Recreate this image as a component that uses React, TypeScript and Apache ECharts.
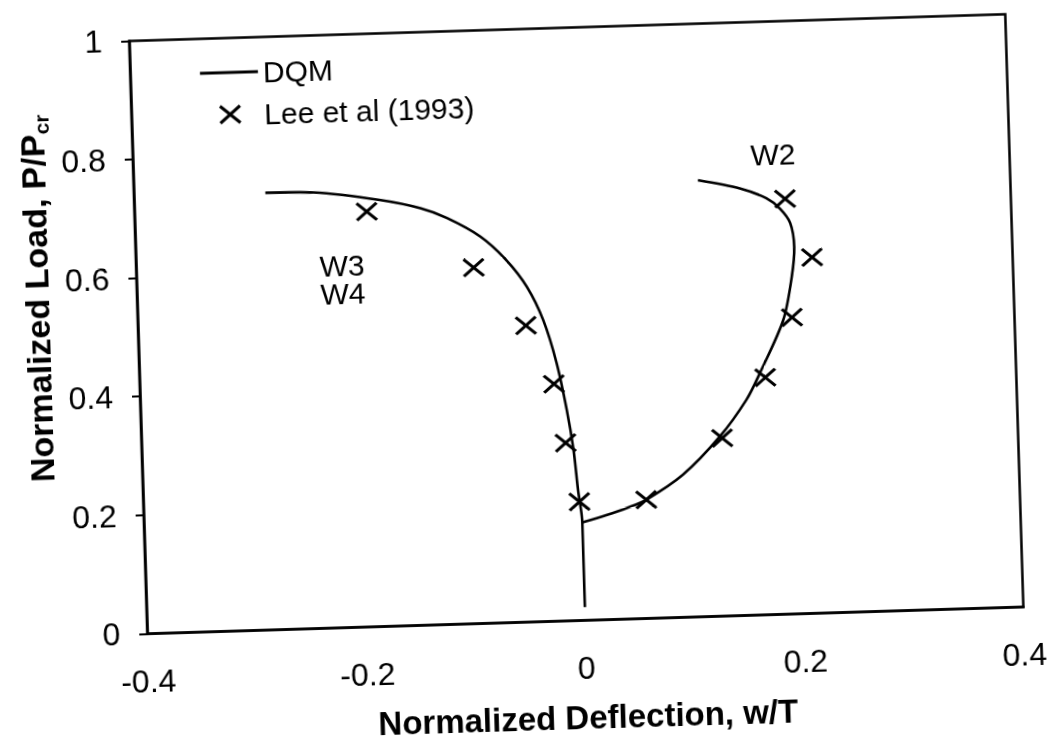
import React, { useEffect, useRef } from 'react';
import * as echarts from 'echarts';

// DQM solution, W3/W4 branch (from the origin upward, bending to negative deflection)
const dqmW34: number[][] = [
  [0, 0.022], [0, 0.165], [-0.003, 0.22], [-0.006, 0.288], [-0.011, 0.355],
  [-0.019, 0.435], [-0.03, 0.508], [-0.044, 0.565], [-0.062, 0.611], [-0.085, 0.652],
  [-0.115, 0.685], [-0.139, 0.703], [-0.176, 0.719], [-0.236, 0.735], [-0.28, 0.737],
];
// DQM solution, W2 branch
const dqmW2: number[][] = [
  [0, 0.165], [0.022, 0.176], [0.041, 0.187], [0.059, 0.2], [0.093, 0.24],
  [0.128, 0.303], [0.153, 0.363], [0.166, 0.407], [0.189, 0.496], [0.198, 0.569],
  [0.201, 0.619], [0.198, 0.659], [0.189, 0.684], [0.177, 0.702], [0.153, 0.72],
  [0.115, 0.736],
];
// Lee et al (1993)
const leeW34: number[][] = [
  [-0.002, 0.2], [-0.013, 0.3], [-0.022, 0.4], [-0.046, 0.5], [-0.092, 0.6], [-0.188, 0.7],
];
const leeW2: number[][] = [
  [0.059, 0.2], [0.13, 0.3], [0.171, 0.4], [0.197, 0.5], [0.217, 0.6], [0.194, 0.7],
];

const xRange = { min: -0.4, max: 0.4, interval: 0.2 };
const yRange = { min: 0, max: 1, interval: 0.2 };
const seriesNames = ['DQM', 'Lee et al (1993)'];
const curveLabels = ['W2', 'W3', 'W4'];
const xTitle = 'Normalized Deflection, w/T';
const yTitleMain = 'Normalized Load, P/P';
const yTitleSub = 'cr';

const FONT = "'Liberation Sans', Arial, Helvetica, sans-serif";
const BLACK = '#000';

export default function App() {
  const ref = useRef<HTMLDivElement>(null);

  useEffect(() => {
    if (!ref.current) return;
    const chart = echarts.init(ref.current, null, { renderer: 'svg' });
    const cross = 'path://M0,0L20,17M20,0L0,17';
    chart.setOption({
      animation: false,
      backgroundColor: '#fff',
      textStyle: { fontFamily: FONT, color: BLACK },
      grid: {
        left: 138, top: 27.4, width: 876.5, height: 593,
        show: true, borderColor: BLACK, borderWidth: 2.5, backgroundColor: 'transparent',
      },
      legend: {
        orient: 'vertical', left: 207.8, top: 47, padding: 0, itemGap: 12,
        itemWidth: 58, itemHeight: 17,
        data: [
          { name: seriesNames[0], icon: 'path://M0,0H58V3H0Z', itemStyle: { color: BLACK, borderWidth: 0 } },
          { name: seriesNames[1] },
        ],
        textStyle: { fontSize: 30, color: BLACK, fontFamily: FONT },
        itemStyle: { borderWidth: 3, opacity: 1 },
        selectedMode: false,
      },
      xAxis: {
        type: 'value', ...xRange,
        name: xTitle, nameLocation: 'middle', nameGap: 81,
        nameTextStyle: { fontSize: 33, fontWeight: 'bold', color: BLACK, fontFamily: FONT },
        axisLine: { show: true, onZero: false, lineStyle: { color: BLACK, width: 2.5 } },
        axisTick: { show: false },
        splitLine: { show: false },
        axisLabel: { fontSize: 32, color: BLACK, margin: 32, fontFamily: FONT },
      },
      yAxis: {
        type: 'value', ...yRange,
        axisLine: { show: true, onZero: false, lineStyle: { color: BLACK, width: 2.5 } },
        axisTick: { show: true, inside: false, length: 8, lineStyle: { color: BLACK, width: 2 } },
        splitLine: { show: false },
        axisLabel: { fontSize: 32, color: BLACK, margin: 27, fontFamily: FONT },
      },
      graphic: [
        {
          type: 'text', x: 38, y: 282, rotation: Math.PI / 2,
          style: {
            text: `{a|${yTitleMain}}{b|${yTitleSub}}`,
            align: 'center', verticalAlign: 'middle', fill: BLACK,
            rich: {
              a: { fontSize: 34, fontWeight: 'bold', fontFamily: FONT, lineHeight: 40, fill: BLACK },
              b: { fontSize: 21, fontWeight: 'bold', fontFamily: FONT, lineHeight: 22, verticalAlign: 'bottom', fill: BLACK },
            },
          },
        },
        {
          type: 'text', x: 778, y: 160,
          style: { text: curveLabels[0], fontSize: 30, fontFamily: FONT, fill: BLACK, align: 'center', verticalAlign: 'middle' },
        },
        {
          type: 'text', x: 344, y: 258,
          style: { text: curveLabels[1], fontSize: 30, fontFamily: FONT, fill: BLACK, align: 'center', verticalAlign: 'middle' },
        },
        {
          type: 'text', x: 344, y: 286,
          style: { text: curveLabels[2], fontSize: 30, fontFamily: FONT, fill: BLACK, align: 'center', verticalAlign: 'middle' },
        },
      ],
      series: [
        {
          name: seriesNames[0], type: 'line', data: dqmW34, symbol: 'none', smooth: 0.3,
          lineStyle: { color: BLACK, width: 2.6 }, itemStyle: { color: BLACK }, silent: true,
        },
        {
          name: seriesNames[0], type: 'line', data: dqmW2, symbol: 'none', smooth: 0.3,
          lineStyle: { color: BLACK, width: 2.6 }, itemStyle: { color: BLACK }, silent: true,
        },
        {
          name: seriesNames[1], type: 'scatter', data: [...leeW34, ...leeW2],
          symbol: cross, symbolSize: [20, 17],
          itemStyle: { color: BLACK, borderColor: BLACK, borderWidth: 3, opacity: 1 }, silent: true,
        },
      ],
    });
    return () => chart.dispose();
  }, []);

  return (
    <div
      ref={ref}
      style={{
        position: 'fixed', left: 0, top: 0, width: 1051, height: 741, background: '#fff',
        transformOrigin: '576.3px 323.9px', transform: 'rotate(-1.75deg)',
      }}
    />
  );
}
